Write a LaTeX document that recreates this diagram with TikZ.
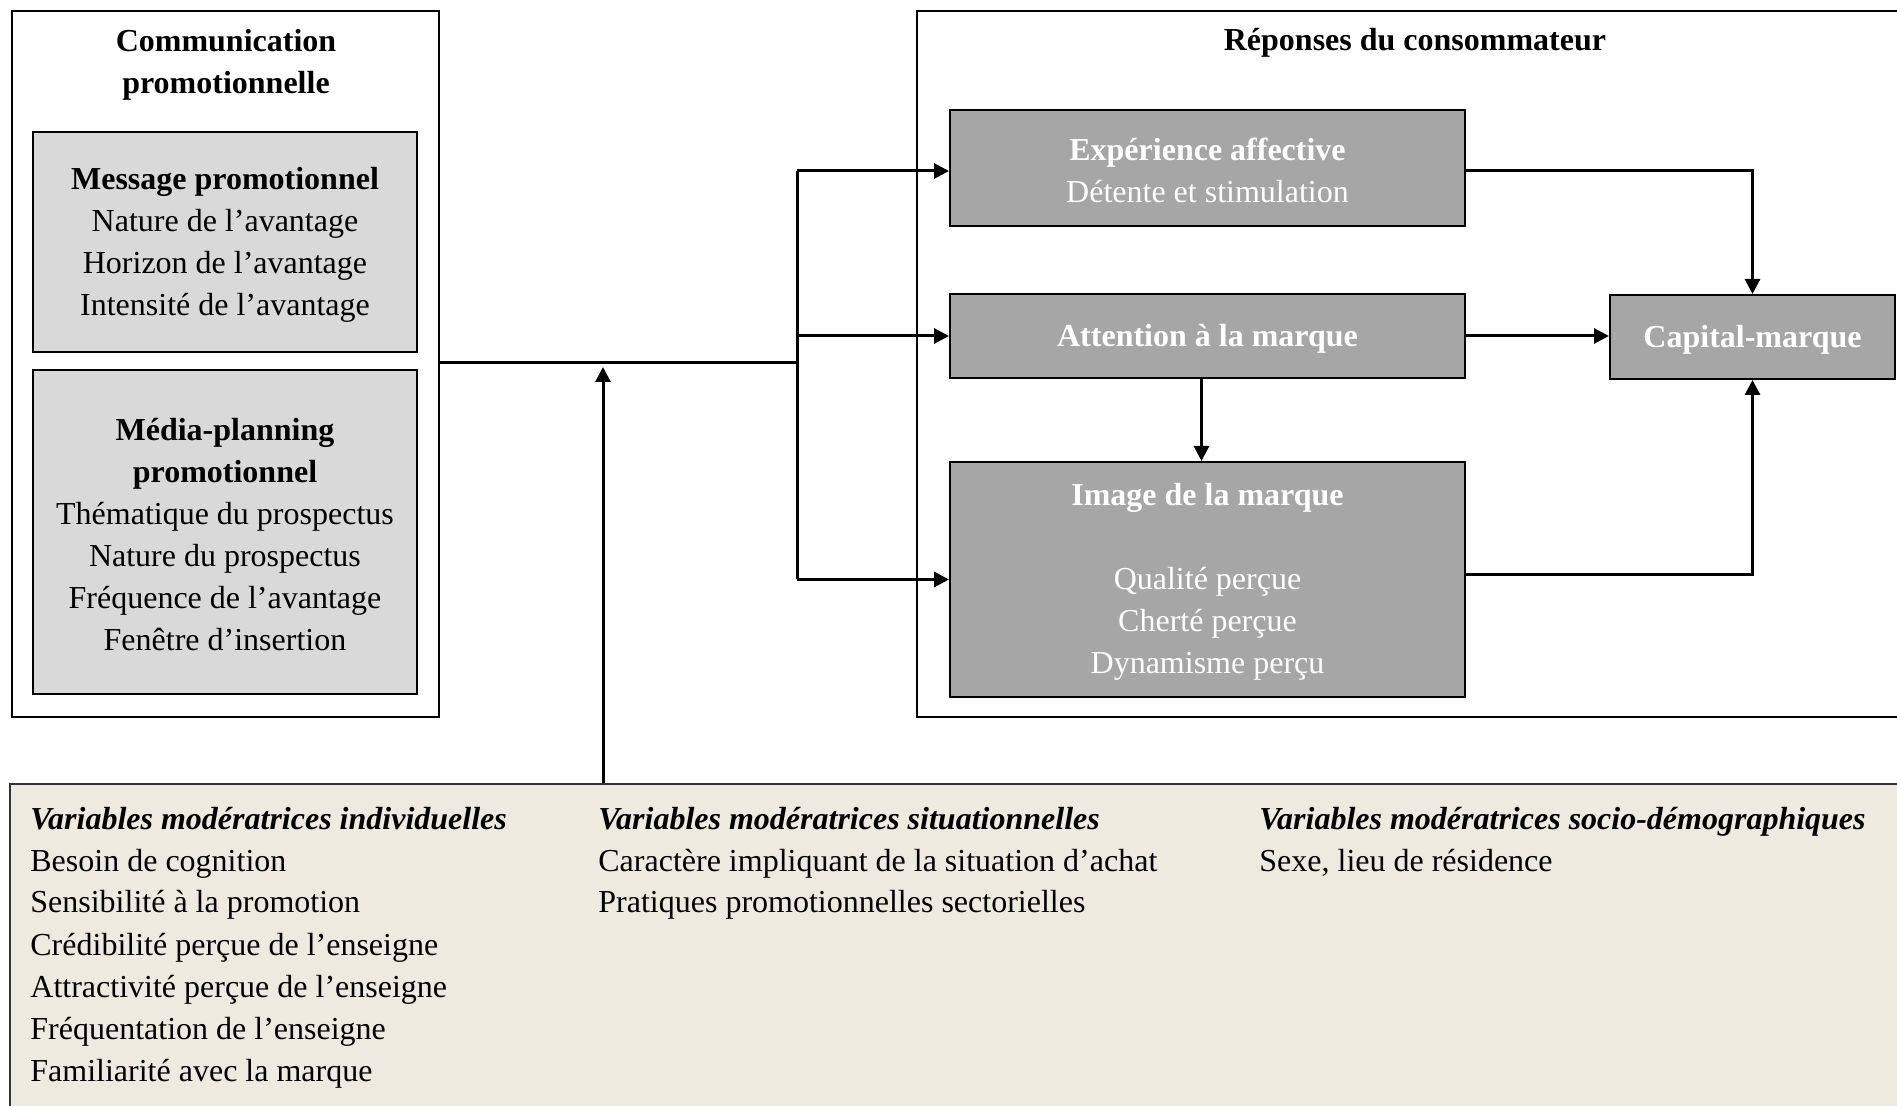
\documentclass[tikz,border=0pt]{standalone}
\usepackage{fontspec}
\setmainfont{Liberation Serif}
\usetikzlibrary{fit,arrows.meta}
\definecolor{lightbox}{HTML}{D9D9D9}
\definecolor{darkbox}{HTML}{A6A6A6}
\definecolor{beige}{HTML}{EDEADF}
\begin{document}
\begin{tikzpicture}[x=0.5pt,y=-0.5pt,
  every node/.style={font=\fontsize{16}{21}\selectfont},
  frame/.style={draw, line width=1pt, inner sep=0pt},
  lbox/.style={frame, fill=lightbox},
  dbox/.style={frame, fill=darkbox},
  ltxt/.style={align=center, inner sep=0pt, yshift=-1.2pt},
  dtxt/.style={align=center, inner sep=0pt, text=white, yshift=-1.2pt},
  conn/.style={line width=1.5pt, line join=miter},
  arr/.style={conn, -{Triangle[length=7.5pt,width=7.5pt]}},
  modtxt/.style={anchor=base west, inner sep=0pt},
]
\useasboundingbox[fill=white] (0,0) rectangle (1897,1106);

% left frame
\node[frame, fit={(12,11) (439,717)}] (comm) {};
\node[align=center] (commtitle) at (226,65) {\textbf{Communication}\\\textbf{promotionnelle}};
\node[lbox, fit={(33,132) (417,352)}] (msg) {};
\node[ltxt] (msgtxt) at (msg.center) {\textbf{Message promotionnel}\\Nature de l’avantage\\Horizon de l’avantage\\Intensité de l’avantage};
\node[lbox, fit={(33,370) (417,694)}] (media) {};
\node[ltxt] (mediatxt) at (media.center) {\textbf{Média-planning}\\\textbf{promotionnel}\\Thématique du prospectus\\Nature du prospectus\\Fréquence de l’avantage\\Fenêtre d’insertion};

% right frame
\node[draw, line width=0.8pt, inner sep=0pt, fit={(917,11) (1915,717)}] (resp) {};
\node (resptitle) at (1415,43) {\textbf{Réponses du consommateur}};
\node[dbox, fit={(950,110) (1465,226)}] (exp) {};
\node[dtxt] (exptxt) at (exp.center) {\textbf{Expérience affective}\\Détente et stimulation};
\node[dbox, fit={(950,294) (1465,378)}] (att) {};
\node[dtxt] (atttxt) at (att.center) {\textbf{Attention à la marque}};
\node[dbox, fit={(950,462) (1465,697)}] (img) {};
\node[dtxt] (imgtxt) at (img.center) {\textbf{Image de la marque}\\[21pt]Qualité perçue\\Cherté perçue\\Dynamisme perçu};
\node[dbox, fit={(1610,295) (1895,379)}] (cap) {};
\node[dtxt] (captxt) at (cap.center) {\textbf{Capital-marque}};

% moderators
\node[draw=black!80, line width=1pt, fill=beige, inner sep=0pt, fit={(10,784) (1915,1120)}] (mod) {};
\foreach \t [count=\i from 0] in {Besoin de cognition, Sensibilité à la promotion, Crédibilité perçue de l’enseigne, Attractivité perçue de l’enseigne, Fréquentation de l’enseigne, Familiarité avec la marque}
  \node[modtxt] (ia\i) at (30,{871+42*\i}) {\t};
\node[modtxt] (ihead) at (30,829) {\textbf{\textit{Variables modératrices individuelles}}};
\node[modtxt] (shead) at (598,829) {\textbf{\textit{Variables modératrices situationnelles}}};
\node[modtxt] (s1) at (598,871) {Caractère impliquant de la situation d’achat};
\node[modtxt] (s2) at (598,913) {Pratiques promotionnelles sectorielles};
\node[modtxt] (dhead) at (1259,829) {\textbf{\textit{Variables modératrices socio-démographiques}}};
\node[modtxt] (d1) at (1259,871) {Sexe, lieu de résidence};

% connectors
\coordinate (j) at (797,363);
\coordinate (m) at (603,367);
\coordinate (ein) at ([yshift=-1.5pt]exp.west);
\coordinate (eout) at ([yshift=-1.5pt]exp.east);
\coordinate (iout) at ([yshift=2.25pt]img.east);
\draw[conn] (comm.east |- j) -- (j);
\draw[conn] (ein -| j) -- (img.west -| j);
\draw[arr] (ein -| j) -- (ein);
\draw[arr] (att.west -| j) -- (att.west);
\draw[arr] (img.west -| j) -- (img.west);
\draw[arr] (mod.north -| m) -- (m);
\draw[arr] (eout) -- (eout -| cap.north) -- (cap.north);
\draw[arr] (att.east) -- (att.east -| cap.west);
\draw[arr] ([xshift=-3pt]att.south) -- ([xshift=-3pt]img.north);
\draw[arr] (iout) -- (iout -| cap.south) -- (cap.south);
\end{tikzpicture}
\end{document}
